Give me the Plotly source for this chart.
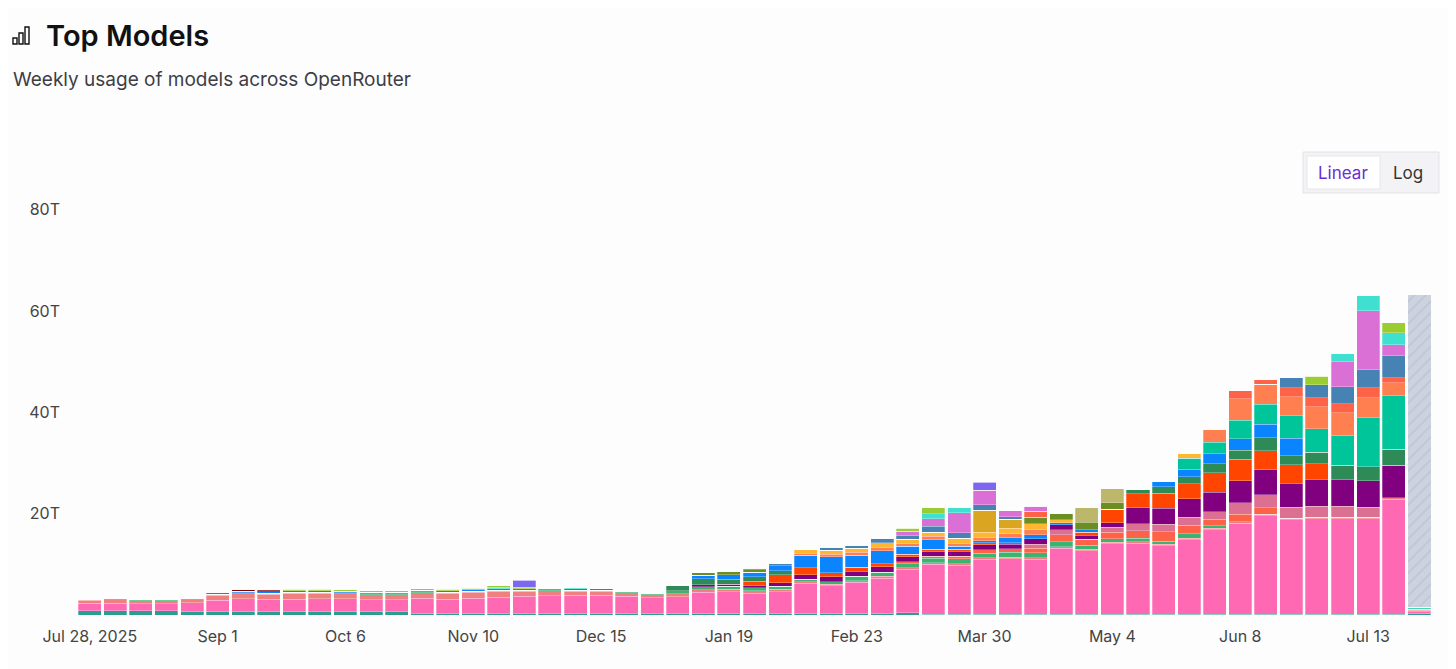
import plotly.graph_objects as go

weeks = list(range(53))
tick_idx = [0, 5, 10, 15, 20, 25, 30, 35, 40, 45, 50]
tick_text = ["Jul 28, 2025", "Sep 1", "Oct 6", "Nov 10", "Dec 15", "Jan 19",
             "Feb 23", "Mar 30", "May 4", "Jun 8", "Jul 13"]

bottom = [0.8,0.8,0.8,0.8,0.6,0.6,0.6,0.6,0.6,0.6,
          0.6,0.6,0.6,0.3,0.3,0.3,0.3,0.3,0.3,0.3,
          0.3,0.3,0.3,0.3,0.3,0.3,0.3,0.3,0.3,0.3,
          0.3,0.3,0.4,0.1,0.1,0.1,0.1,0.1,0.1,0.1,
          0.1,0.1,0.1,0.1,0.1,0.1,0.1,0.1,0.1,0.1,
          0.1,0.1,0.2]
pink = [1.5,1.5,1.4,1.4,1.8,2.3,2.6,2.5,2.5,2.6,
        2.6,2.4,2.4,3.0,2.8,3.0,3.2,3.4,3.5,3.6,
        3.6,3.4,3.1,3.3,4.2,4.3,4.0,4.3,6.0,5.5,
        6.2,7.0,8.6,9.9,9.7,10.9,11.0,10.9,13.1,12.6,
        14.0,14.1,13.6,14.7,16.7,18.0,19.5,18.7,18.9,18.9,
        18.9,22.7,0.4]
salmon = [0.6,0.7,0.6,0.6,0.6,1.0,1.0,1.0,1.2,1.1,
          1.0,1.0,1.0,1.1,1.2,1.2,1.2,1.0,1.0,0.8,
          0.8,0.7,0.6,0.6,0.5,0.5,0.5,0.5,0.3,0.3,
          0.3,0.3,0.3,0.3,0.3,0.3,0.3,0.3,0.3,0.3,
          0.3,0.3,0.3,0.3,0.3,0.3,0.3,0.3,0.3,0.3,
          0.3,0.3,0.3]
seagreen = [0.2,0.2,0.2,0.2,0.2,0.2,0.2,0.2,0.2,0.2,
            0.2,0.2,0.2,0.2,0.2,0.2,0.2,0.2,0.2,0.2,
            0.2,0.2,0.2,0.6,0.6,0.6,0.6,0.6,0.5,0.5,
            0.8,0.8,0.8,0.9,1.0,0.9,1.0,1.0,1.0,0.8,
            0.6,0.6,0.6,0.9,0.5,0,0,0,0,0,
            0,0,0.2]
tomato_low = [0,0,0,0,0,0,0,0,0,0,
              0,0,0,0,0,0,0,0,0,0,
              0,0,0,0,0,0,0,0,0,0,
              0,0,0.4,0.4,0.5,0.7,0.7,0.9,1.3,1.1,
              1.3,1.5,1.8,1.7,1.3,1.5,1.3,0,0,0,
              0,0,0]
rose = [0,0,0,0,0,0,0,0,0,0,
        0,0,0,0,0,0,0,0,0,0,
        0,0,0,0,0,0,0,0,0,0,
        0,0,0,0,0,0,0,0.8,1.0,0,
        1.0,1.4,1.5,1.6,1.5,2.2,2.5,2.2,2.2,2.2,
        2.0,0,0]
purple = [0,0,0,0,0,0,0,0,0,0,
          0,0,0,0,0,0,0,0,0,0,
          0,0,0,0,0.4,0.4,0.5,0.7,0.8,0.9,
          1.0,1.1,1.0,0.9,1.0,1.0,0.9,1.0,1.0,0.8,
          0.9,3.2,3.2,3.6,3.8,4.4,5.0,4.7,5.3,5.2,
          5.2,6.4,0.1]
orangered = [0,0,0,0,0,0,0,0,0,0,
             0,0,0,0,0,0,0,0,0,0,
             0,0,0,0,0,0,0.8,1.5,1.4,0.8,
             0.8,0.6,0.5,0.5,0.4,0.4,0.3,0,0,0.6,
             2.7,2.7,2.9,3.0,3.9,4.2,3.7,3.6,3.0,0,
             0,0,0]
dkgreen = [0,0,0,0,0,0,0,0,0,0,
           0,0,0,0,0,0,0,0,0,0,
           0,0,0,1.0,1.2,1.0,0.8,0.8,0,0,
           0,0,0,0,0,0,0,0,0,0,
           0,0.8,1.3,1.4,1.7,1.8,2.6,1.8,2.3,2.8,
           2.8,3.2,0]
blue = [0,0,0,0,0,0.3,0.3,0.3,0.3,0.3,
        0.3,0.3,0.3,0.3,0.3,0.3,0.3,0.3,0.3,0.3,
        0.3,0,0,0,0.6,0.8,0.9,1.0,2.5,3.2,
        2.4,2.6,1.6,1.8,0.6,0.4,0.9,0.8,0.4,0.5,
        0,0,1.0,1.5,2.0,2.3,2.6,3.5,0,0,
        0,0,0]
teal = [0,0,0,0,0,0,0,0,0,0,
        0,0,0,0,0,0,0,0,0,0,
        0,0,0,0,0,0,0,0,0,0,
        0,0,0,0,0,0,0,0,0,0,
        0,0,0,2.1,2.3,3.6,4.0,4.4,4.6,6.0,
        9.6,10.6,0.3]
coral = [0,0,0,0,0,0,0,0,0,0,
         0,0,0,0,0,0,0,0,0,0,
         0,0,0,0,0,0,0,0,0.4,0.5,
         0.6,0.7,0.6,0.7,0.6,0.6,0.8,1.0,0,0,
         0,0,0,0,2.5,4.3,3.9,3.8,4.4,4.4,
         4.0,2.5,0]
amber = [0,0,0,0,0,0,0,0,0,0,
         0,0,0,0,0,0,0,0,0,0,
         0,0,0,0,0,0,0,0,0.7,0.8,
         0.8,0.9,0.7,0.8,0.9,1.0,1.1,1.2,0.6,0,
         0,0,0,1.0,0,0,0,0,0,0,
         0,0,0]
goldenrod = [0,0,0,0,0,0,0,0,0,0,
             0,0,0,0,0,0,0,0,0,0,
             0,0,0,0,0,0,0,0,0,0,
             0,0,0,0,0,4.4,1.8,0,0,0,
             0,0,0,0,0,0,0,0,0,0,
             0,0,0]
olive = [0,0,0,0,0,0,0,0,0,0,
         0,0,0,0,0,0,0,0,0,0,
         0,0,0,0,0.6,0.6,0.5,0,0,0,
         0,0,0,0,0,0,0,1.3,1.3,1.5,
         1.2,0,0,0,0,0,0,0,0,0,
         0,0,0]
khaki = [0,0,0,0,0,0,0,0,0,0,
         0,0,0,0,0,0,0,0,0,0,
         0,0,0,0,0,0,0,0,0,0,
         0,0,0,0,0,0,0,0,0,3.0,
         2.8,0,0,0,0,0,0,0,0,0,
         0,0,0]
tomato_top = [0,0,0,0,0,0,0,0,0,0,
              0,0,0,0,0,0,0,0,0,0,
              0,0,0,0,0,0,0,0,0,0,
              0,0,0,0,0,0,0,1.2,0,0,
              0,0,0,0,0,1.5,1.0,1.7,1.8,1.8,
              1.9,1.0,0]
steel = [0,0,0,0,0,0,0,0,0,0,
         0,0,0,0,0,0,0,0,0,0,
         0,0,0,0,0,0,0.3,0.4,0,0.6,
         0.6,0.8,0.8,1.2,1.1,1.1,0.5,0,0,0,
         0,0,0,0,0,0,0,2.0,2.5,3.3,
         3.7,4.5,0]
orchid = [0,0,0,0,0,0,0,0,0,0,
          0,0,0,0,0,0,0,0,0,0,
          0,0,0,0,0,0,0,0,0,0,
          0,0,0.8,1.5,4.0,2.8,1.2,1.0,0,0,
          0,0,0,0,0,0,0,0,0,5.0,
          11.5,2.0,0]
turquoise = [0,0,0,0,0,0,0,0,0,0,
             0,0,0,0,0,0,0.3,0,0,0.2,
             0,0,0,0,0,0,0,0,0,0,
             0,0,0,1.0,1.0,0,0,0,0,0,
             0,0,0,0,0,0,0,0,0,1.5,
             3.0,2.4,0]
yellowgreen = [0,0,0,0,0,0,0,0,0.3,0.3,
               0.3,0.3,0.3,0.3,0.3,0.3,0.3,0.3,0,0,
               0,0,0,0,0,0,0,0,0,0,
               0,0,0.6,1.2,0,0,0,0,0,0,
               0,0,0,0,0,0,0,0,1.7,0,
               0,2.0,0]
slate = [0,0,0,0,0,0,0,0,0,0,
         0,0,0,0,0,0,0,1.4,0,0,
         0,0,0,0,0,0,0,0,0,0,
         0,0,0,0,0,1.6,0,0,0,0,
         0,0,0,0,0,0,0,0,0,0,
         0,0,0]
maroon = [0,0,0,0,0,0,0.3,0.3,0,0,
          0,0,0,0,0,0,0,0,0,0,
          0,0,0,0,0,0,0,0,0,0,
          0,0,0,0,0,0,0,0,0,0,
          0,0,0,0,0,0,0,0,0,0,
          0,0,0]
partial = [0]*52 + [61.6]

series = [
    ("Bottom", bottom, "#2A9D8F"), ("Main", pink, "#FF69B4"),
    ("Salmon", salmon, "#F08080"), ("SeaGreen", seagreen, "#3CB371"),
    ("TomatoLow", tomato_low, "#FF6347"), ("Rose", rose, "#DB7093"),
    ("Purple", purple, "#800080"), ("OrangeRed", orangered, "#FF4500"),
    ("DarkGreen", dkgreen, "#2E8B57"), ("Blue", blue, "#0A84FF"),
    ("Teal", teal, "#00C49A"), ("Coral", coral, "#FF7F50"),
    ("Amber", amber, "#FFB732"), ("Goldenrod", goldenrod, "#DAA520"),
    ("Olive", olive, "#6B8E23"), ("Khaki", khaki, "#BDB76B"),
    ("TomatoTop", tomato_top, "#FF6347"), ("Steel", steel, "#4682B4"),
    ("Orchid", orchid, "#DA70D6"), ("Turquoise", turquoise, "#40E0D0"),
    ("YellowGreen", yellowgreen, "#9ACD32"), ("Slate", slate, "#7B68EE"),
    ("Maroon", maroon, "#800000"),
]

fig = go.Figure()
for name, vals, col in series:
    fig.add_trace(go.Bar(x=weeks, y=vals, name=name, marker_color=col,
                         marker_line=dict(color="rgba(255,255,255,0.45)", width=0.6)))
fig.add_trace(go.Bar(x=weeks, y=partial, name="Current week",
                     marker=dict(color="#cdd3de",
                                 pattern=dict(shape="/", fgcolor="#b3bccb", size=8, solidity=0.25),
                                 line=dict(width=0))))

BG = "#FDFDFE"
OFF = 8  # page offset of the figure
X0, X1, Y0, Y1 = 77, 1432, 615, 207  # desired page pixel positions of plot area
def px(x): return (x - X0) / (X1 - X0)
def py(y): return (Y0 - y) / (Y0 - Y1)

shapes = [
    dict(type="rect", xref="paper", yref="paper", x0=px(1303), x1=px(1439), y0=py(193), y1=py(152),
         line=dict(color="#e3e3e8", width=1), fillcolor="#f3f3f5", layer="above"),
    dict(type="rect", xref="paper", yref="paper", x0=px(1307), x1=px(1380), y0=py(189), y1=py(156),
         line=dict(color="#e6e6ea", width=1), fillcolor="#ffffff", layer="above"),
]
for (a, b, top) in [(13, 17, 38), (19, 23, 33), (25, 29, 27)]:
    shapes.append(dict(type="rect", xref="paper", yref="paper", x0=px(a), x1=px(b), y0=py(44), y1=py(top),
                       line=dict(color="#111", width=1.4), fillcolor="rgba(0,0,0,0)"))

annotations = [
    dict(text="Top Models", xref="paper", yref="paper", x=px(44), y=py(36), xanchor="left",
         yanchor="middle", showarrow=False, font=dict(size=29, color="#111", family="Inter", weight=600)),
    dict(text="Weekly usage of models across OpenRouter", xref="paper", yref="paper", x=px(11), y=py(79),
         xanchor="left", yanchor="middle", showarrow=False, font=dict(size=19, color="#3d3d45", family="Inter")),
    dict(text="Linear", xref="paper", yref="paper", x=px(1343), y=py(173), xanchor="center", yanchor="middle",
         showarrow=False, font=dict(size=17, color="#6b2ed6", family="Inter")),
    dict(text="Log", xref="paper", yref="paper", x=px(1408), y=py(173), xanchor="center", yanchor="middle",
         showarrow=False, font=dict(size=17, color="#333", family="Inter")),
]

fig.update_layout(
    barmode="stack", bargap=0.1, showlegend=False,
    width=1456, height=669,
    margin=dict(l=X0 - OFF, r=1456 - (X1 - OFF), t=Y1 - OFF, b=669 - (Y0 - OFF)),
    paper_bgcolor=BG, plot_bgcolor=BG,
    font=dict(family="Inter", color="#444"),
    shapes=shapes, annotations=annotations,
    xaxis=dict(range=[-0.5, 52.5], tickmode="array", tickvals=tick_idx, ticktext=tick_text,
               showgrid=False, zeroline=False, showline=False, ticks="",
               tickfont=dict(size=16, color="#444"), ticklabelstandoff=10),
    yaxis=dict(range=[0, 80.5], tickmode="array", tickvals=[20, 40, 60, 80],
               ticktext=["20T", "40T", "60T", "80T"], showgrid=False, zeroline=False,
               showline=False, ticks="", tickfont=dict(size=16, color="#444"),
               ticklabelstandoff=16),
)
fig.write_html("out.html")
